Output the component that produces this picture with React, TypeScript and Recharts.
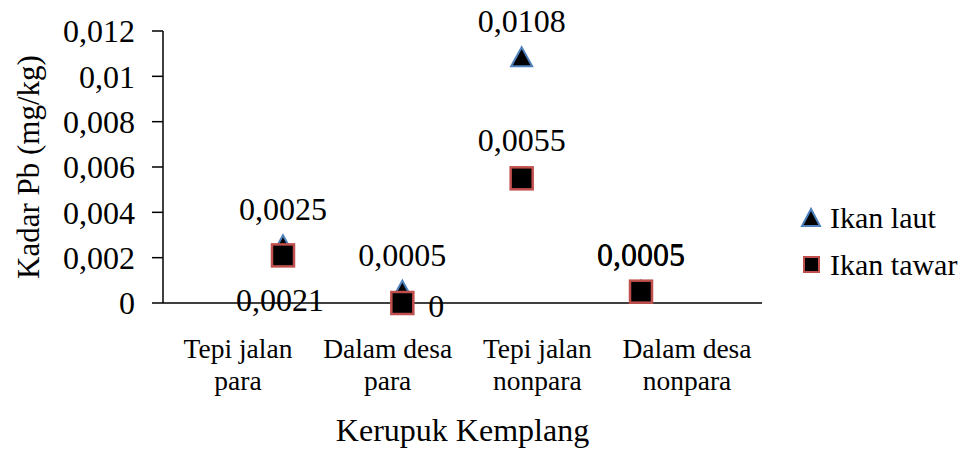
import { ComposedChart, Line, XAxis, YAxis, Legend, LabelList, Label } from 'recharts';

// Kadar Pb pada kerupuk kemplang
const categories = ['Tepi jalan para', 'Dalam desa para', 'Tepi jalan nonpara', 'Dalam desa nonpara'];
const ikanLaut = [0.0025, 0.0005, 0.0108, 0.0005];
const ikanTawar = [0.0021, 0, 0.0055, 0.0005];
const yTicks = [0, 0.002, 0.004, 0.006, 0.008, 0.01, 0.012];

const data = categories.map((cat, i) => ({ cat, laut: ikanLaut[i], tawar: ikanTawar[i] }));

const FONT = 'Liberation Serif';
const BLUE = '#4F81BD';
const RED = '#C0504D';

const fmt = (v: number) => String(v).replace('.', ',');

// posisi label Ikan tawar (seperti di Excel aslinya)
const tawarLabelPos = [
  { dx: -3, dy: 56, anchor: 'middle' },
  { dx: 26, dy: 14, anchor: 'start' },
  { dx: 0, dy: -27, anchor: 'middle' },
  { dx: 0, dy: -27, anchor: 'middle' },
];

const TriangleDot = (p: any) => {
  const { cx, cy, index } = p;
  if (cx == null || cy == null) return <g key={`t-${index}`} />;
  return (
    <polygon
      key={`t-${index}`}
      points={`${cx},${cy - 11} ${cx - 10.5},${cy + 8} ${cx + 10.5},${cy + 8}`}
      fill="#000"
      stroke={BLUE}
      strokeWidth={2}
    />
  );
};

const SquareDot = (p: any) => {
  const { cx, cy, index } = p;
  if (cx == null || cy == null) return <g key={`s-${index}`} />;
  return (
    <rect key={`s-${index}`} x={cx - 11} y={cy - 11} width={22} height={22} fill="#000" stroke={RED} strokeWidth={2.5} />
  );
};

const getXY = (p: any) => {
  const vb = p.viewBox || {};
  return { x: vb.x ?? p.x, y: vb.y ?? p.y };
};

const lautLabel = (p: any) => {
  const { x, y } = getXY(p);
  return (
    <text x={x} y={y - 26} textAnchor="middle" fontSize={32} style={{ fontFamily: FONT }} fill="#000">
      {fmt(p.value)}
    </text>
  );
};

const tawarLabel = (p: any) => {
  const { x, y } = getXY(p);
  const pos = tawarLabelPos[p.index] || tawarLabelPos[2];
  return (
    <text x={x + pos.dx} y={y + pos.dy} textAnchor={pos.anchor} fontSize={32} style={{ fontFamily: FONT }} fill="#000">
      {fmt(p.value)}
    </text>
  );
};

const CategoryTick = (p: any) => {
  const { x, y, payload } = p;
  const label: string = payload.value;
  const cut = label.lastIndexOf(' ');
  const lines = [label.slice(0, cut), label.slice(cut + 1)];
  return (
    <text x={x} y={y} textAnchor="middle" fontSize={27.5} style={{ fontFamily: FONT }} fill="#000">
      {lines.map((l, i) => (
        <tspan key={i} x={x} dy={i === 0 ? 55 : 32}>
          {l}
        </tspan>
      ))}
    </text>
  );
};

const LegendBox = () => (
  <div style={{ fontFamily: FONT, fontSize: 30, color: '#000' }}>
    <div style={{ height: 47, lineHeight: '47px', display: 'flex', alignItems: 'center' }}>
      <svg width={30} height={24} style={{ flexShrink: 0 }}>
        <polygon points="11,3 2,20 20,20" fill="#000" stroke={BLUE} strokeWidth={2} />
      </svg>
      <span>Ikan laut</span>
    </div>
    <div style={{ height: 47, lineHeight: '47px', display: 'flex', alignItems: 'center' }}>
      <svg width={30} height={24} style={{ flexShrink: 0 }}>
        <rect x={4} y={4} width={15} height={15} fill="#000" stroke={RED} strokeWidth={2} />
      </svg>
      <span>Ikan tawar</span>
    </div>
  </div>
);

export default function App() {
  return (
    <div style={{ fontFamily: FONT }}>
      <style>{'body{margin:0}'}</style>
      <ComposedChart width={973} height={450} data={data} margin={{ top: 31, right: 41, bottom: 0, left: 0 }}>
        <XAxis
          xAxisId="m"
          dataKey="cat"
          type="category"
          scale="point"
          padding={{ left: 120, right: 121 }}
          hide
        />
        <XAxis
          xAxisId="l"
          dataKey="cat"
          type="category"
          scale="point"
          padding={{ left: 75, right: 75 }}
          height={147}
          tickLine={false}
          tickSize={0}
          tickMargin={0}
          tick={<CategoryTick />}
          interval={0}
          axisLine={{ stroke: '#000', strokeWidth: 1.5 }}
        >
          <Label
            content={(p: any) => {
              const vb = p.viewBox || {};
              const cx = (vb.x ?? 163) + (vb.width ?? 599) / 2;
              return (
                <text x={cx} y={441} textAnchor="middle" fontSize={32} style={{ fontFamily: FONT }} fill="#000">
                  Kerupuk Kemplang
                </text>
              );
            }}
          />
        </XAxis>
        <YAxis
          domain={[0, 0.012]}
          ticks={yTicks}
          width={163}
          tickSize={11}
          tickMargin={17}
          tickFormatter={fmt}
          tick={{ fontSize: 32, style: { fontFamily: FONT }, fill: '#000' }}
          axisLine={{ stroke: '#000', strokeWidth: 1.5 }}
          tickLine={{ stroke: '#000', strokeWidth: 1.5 }}
        >
          <Label
            content={() => (
              <text x={28} y={167} transform="rotate(-90 28 167)" textAnchor="middle" dominantBaseline="central" fontSize={31} style={{ fontFamily: FONT }} fill="#000">
                Kadar Pb (mg/kg)
              </text>
            )}
          />
        </YAxis>
        <Legend
          layout="vertical"
          align="right"
          verticalAlign="top"
          wrapperStyle={{ left: 800, top: 194, width: 170 }}
          content={() => <LegendBox />}
        />
        <Line
          xAxisId="m"
          dataKey="laut"
          name="Ikan laut"
          stroke="none"
          dot={TriangleDot}
          activeDot={false}
          legendType="none"
          isAnimationActive={false}
        >
          <LabelList dataKey="laut" content={lautLabel} />
        </Line>
        <Line
          xAxisId="m"
          dataKey="tawar"
          name="Ikan tawar"
          stroke="none"
          dot={SquareDot}
          activeDot={false}
          legendType="none"
          isAnimationActive={false}
        >
          <LabelList dataKey="tawar" content={tawarLabel} />
        </Line>
      </ComposedChart>
    </div>
  );
}
